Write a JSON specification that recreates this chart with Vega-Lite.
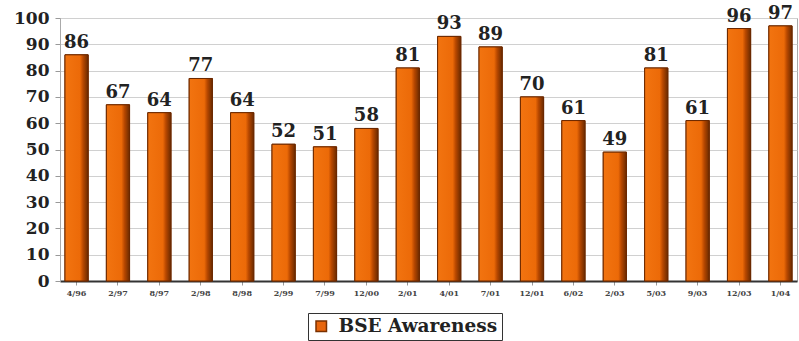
{
  "$schema": "https://vega.github.io/schema/vega-lite/v6.json",
  "width": 737,
  "height": 263,
  "autosize": "none",
  "padding": {"left": 60, "top": 18, "right": 2, "bottom": 60},
  "background": "white",
  "data": {
    "values": [
      {"date": "4/96", "value": 86, "series": "BSE Awareness"},
      {"date": "2/97", "value": 67, "series": "BSE Awareness"},
      {"date": "8/97", "value": 64, "series": "BSE Awareness"},
      {"date": "2/98", "value": 77, "series": "BSE Awareness"},
      {"date": "8/98", "value": 64, "series": "BSE Awareness"},
      {"date": "2/99", "value": 52, "series": "BSE Awareness"},
      {"date": "7/99", "value": 51, "series": "BSE Awareness"},
      {"date": "12/00", "value": 58, "series": "BSE Awareness"},
      {"date": "2/01", "value": 81, "series": "BSE Awareness"},
      {"date": "4/01", "value": 93, "series": "BSE Awareness"},
      {"date": "7/01", "value": 89, "series": "BSE Awareness"},
      {"date": "12/01", "value": 70, "series": "BSE Awareness"},
      {"date": "6/02", "value": 61, "series": "BSE Awareness"},
      {"date": "2/03", "value": 49, "series": "BSE Awareness"},
      {"date": "5/03", "value": 81, "series": "BSE Awareness"},
      {"date": "9/03", "value": 61, "series": "BSE Awareness"},
      {"date": "12/03", "value": 96, "series": "BSE Awareness"},
      {"date": "1/04", "value": 97, "series": "BSE Awareness"}
    ]
  },
  "encoding": {
    "x": {
      "field": "date", "type": "nominal", "sort": null,
      "scale": {"paddingInner": 0.44, "paddingOuter": 0.12},
      "axis": {"title": null, "labelAngle": 0, "labelFont": "DejaVu Serif", "labelFontSize": 8, "labelFontWeight": "bold", "labelColor": "#444", "domainColor": "#333", "domainWidth": 2, "tickColor": "#999", "ticks": true, "tickSize": 4, "labelPadding": 4}
    },
    "y": {
      "field": "value", "type": "quantitative",
      "scale": {"domain": [0, 100]},
      "axis": {"title": null, "values": [0,10,20,30,40,50,60,70,80,90,100], "labelFont": "DejaVu Serif", "labelFontSize": 17, "labelFontWeight": "bold", "labelColor": "#222", "gridColor": "#d0d0d0", "domainColor": "#aaa", "tickColor": "#999", "tickSize": 5, "labelPadding": 6}
    }
  },
  "layer": [
    {
      "mark": {"type": "bar", "stroke": "#7a3000", "strokeWidth": 1},
      "encoding": {
        "color": {
          "field": "series", "type": "nominal",
          "scale": {"range": ["#e8650c"]},
          "legend": {"title": null, "orient": "none", "legendX": 248, "legendY": 295, "symbolType": "square", "symbolSize": 110, "symbolStrokeColor": "#7a3000", "symbolStrokeWidth": 1.5, "labelFont": "DejaVu Serif", "labelFontSize": 18.5, "labelFontWeight": "bold", "labelColor": "#222", "strokeColor": "#333", "padding": 4, "labelOffset": 8}
        }
      }
    },
    {
      "mark": {"type": "bar", "stroke": "#6a2800", "strokeWidth": 1,
        "fill": {"x1": 0, "y1": 0, "x2": 1, "y2": 0, "gradient": "linear", "stops": [
          {"offset": 0, "color": "#f27410"},
          {"offset": 0.65, "color": "#ec6a08"},
          {"offset": 0.78, "color": "#b84800"},
          {"offset": 1, "color": "#6a2a00"}
        ]}}
    },
    {
      "mark": {"type": "text", "dy": -12, "font": "DejaVu Serif", "fontSize": 18, "fontWeight": "bold", "color": "#222"},
      "encoding": {"text": {"field": "value", "type": "quantitative"}}
    }
  ],
  "config": {"view": {"stroke": "#aaa"}}
}
